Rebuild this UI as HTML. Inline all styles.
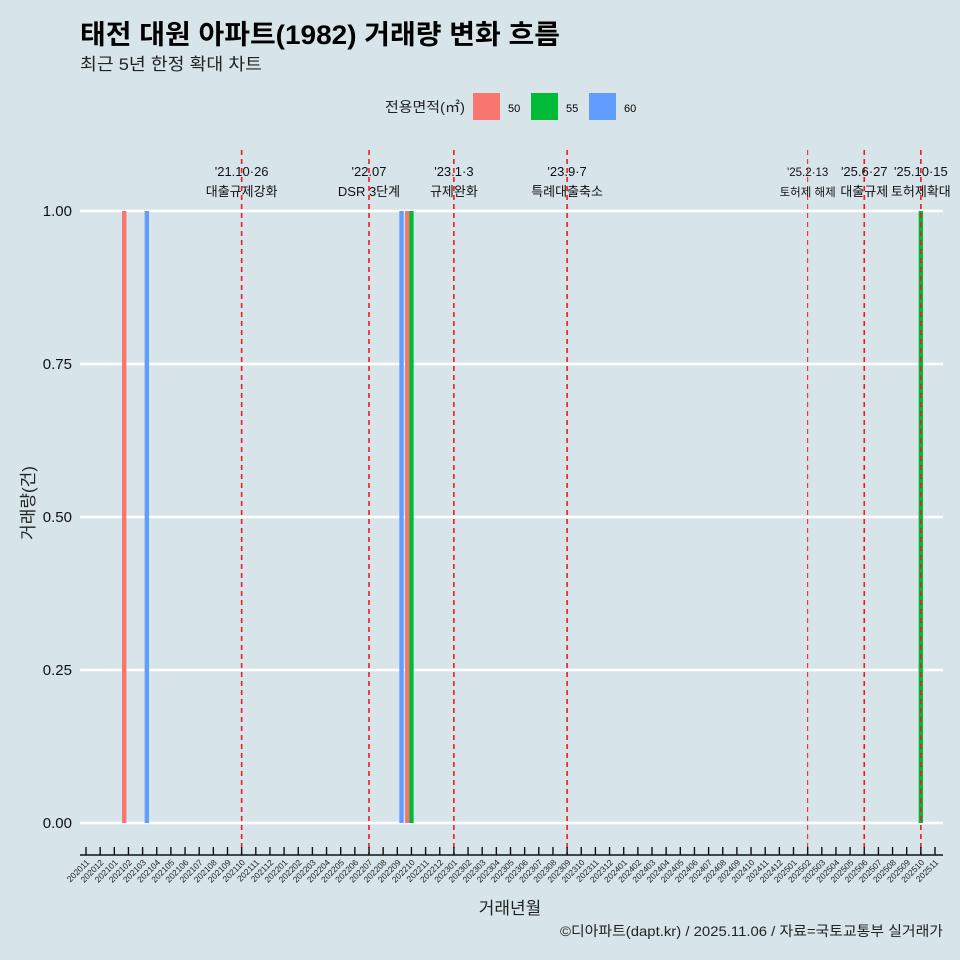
<!DOCTYPE html>
<html><head><meta charset="utf-8">
<style>
body{margin:0;background:#d7e4ea;}
svg{display:block;font-family:"Liberation Sans","Noto Sans CJK KR",sans-serif;}
</style></head>
<body>
<svg id="chart" width="960" height="960" viewBox="0 0 960 960">
<rect width="960" height="960" fill="#d7e4ea"/>
<text x="80" y="44" font-size="27" font-weight="bold" fill="#000" textLength="480" lengthAdjust="spacingAndGlyphs">태전 대원 아파트(1982) 거래량 변화 흐름</text>
<text x="80" y="70" font-size="17" fill="#222" textLength="182" lengthAdjust="spacingAndGlyphs">최근 5년 한정 확대 차트</text>
<g>
<text x="385" y="112" font-size="14" fill="#222" textLength="80" lengthAdjust="spacingAndGlyphs">전용면적(㎡)</text>
<rect x="473" y="93" width="27" height="27" fill="#f8766d"/>
<text x="508" y="112" font-size="11">50</text>
<rect x="531" y="93" width="27" height="27" fill="#00ba38"/>
<text x="566" y="112" font-size="11">55</text>
<rect x="589" y="93" width="27" height="27" fill="#619cff"/>
<text x="624" y="112" font-size="11">60</text>
</g>
<g id="grid"></g><g id="bars"></g><g id="events"></g><g id="xaxis"></g><g id="yaxis"></g>
<text x="510" y="914" font-size="17" text-anchor="middle" fill="#222">거래년월</text>
<text transform="translate(34,503) rotate(-90)" font-size="17" text-anchor="middle" fill="#222">거래량(건)</text>
<text x="560" y="936" font-size="14" fill="#222" textLength="383" lengthAdjust="spacingAndGlyphs">©디아파트(dapt.kr) / 2025.11.06 / 자료=국토교통부 실거래가</text>
</svg>
<script>
const startYear=2020, startMonth=11, monthCount=61;
const yTicks=[0,0.25,0.5,0.75,1];
const yTickLabels=["0.00","0.25","0.50","0.75","1.00"];
const barMonths=["202102","202103","202209","202210","202210","202510"];
const barSizes=["50","60","60","50","55","55"];
const barValues=[1,1,1,1,1,1];
const eventMonths=["202110","202207","202301","202309","202502","202506","202510"];
const eventDates=["'21.10·26","'22.07","'23.1·3","'23.9·7","'25.2·13","'25.6·27","'25.10·15"];
const eventNames=["대출규제강화","DSR 3단계","규제완화","특례대출축소","토허제 해제","대출규제","토허제확대"];
const eventSmall=[false,false,false,false,true,false,false];
const sizeColors={"50":"#f8766d","55":"#00ba38","60":"#619cff"};
const sizeOffset={"50":-1,"55":0,"60":1};
const NS="http://www.w3.org/2000/svg";
const x0=86,x1=935,y0=823,y1=211;
const months=[];
for(let i=0;i<monthCount;i++){const m=(startMonth-1+i)%12+1;const y=startYear+Math.floor((startMonth-1+i)/12);months.push(y+String(m).padStart(2,"0"));}
function xScale(mo){return x0+months.indexOf(mo)*(x1-x0)/(monthCount-1);}
function yScale(v){return y0+(y1-y0)*v;}
const step=(x1-x0)/(monthCount-1);
function mk(tag,attrs,parent,txt){const e=document.createElementNS(NS,tag);for(const k in attrs)e.setAttribute(k,attrs[k]);if(txt!==undefined)e.textContent=txt;parent.appendChild(e);return e;}
const grid=document.getElementById("grid"),yax=document.getElementById("yaxis");
yTicks.forEach((t,i)=>{
 const l=mk("line",{x1:80,x2:943,y1:yScale(t),y2:yScale(t),stroke:"#fff","stroke-width":2.6},grid);
 
 
 const tx=mk("text",{x:72,y:yScale(t)+5,"font-size":15,"text-anchor":"end",fill:"#111"},yax,yTickLabels[i]);
 
 
});
const ev=document.getElementById("events");
eventMonths.forEach((m,i)=>{
 const x=xScale(m);
 const l=mk("line",{x1:x,x2:x,y1:150,y2:855,stroke:"#ee1c1c","stroke-width":eventSmall[i]?1:1.6,"stroke-dasharray":"5,4"},ev);
 
 
 const fs=eventSmall[i]?11.5:13;
 const a=mk("text",{x:x,y:176,"font-size":fs,"text-anchor":"middle",fill:"#111"},ev,eventDates[i]);
 
 
 const b=mk("text",{x:x,y:196,"font-size":fs,"text-anchor":"middle",fill:"#111"},ev,eventNames[i]);
 
 
});
const bars=document.getElementById("bars");
barMonths.forEach((m,i)=>{
 const cx=xScale(m)+sizeOffset[barSizes[i]]*step*0.3;
 const r=mk("rect",{x:cx-2.2,y:yScale(barValues[i]),width:4.4,height:y0-yScale(barValues[i]),fill:sizeColors[barSizes[i]]},bars);
 
 
});
const xa=document.getElementById("xaxis");
const al=mk("line",{x1:80,x2:943,y1:855,y2:855,stroke:"#111","stroke-width":1.4},xa);


months.forEach(m=>{
 const x=xScale(m);
 const t=mk("line",{x1:x,x2:x,y1:847,y2:855,stroke:"#111","stroke-width":1.4},xa);
 
 
 const tx=mk("text",{transform:`translate(${x+4},${863}) rotate(-45)`,"font-size":8.5,"text-anchor":"end",fill:"#222"},xa,m);
 
 
});
</script>
</body></html>
